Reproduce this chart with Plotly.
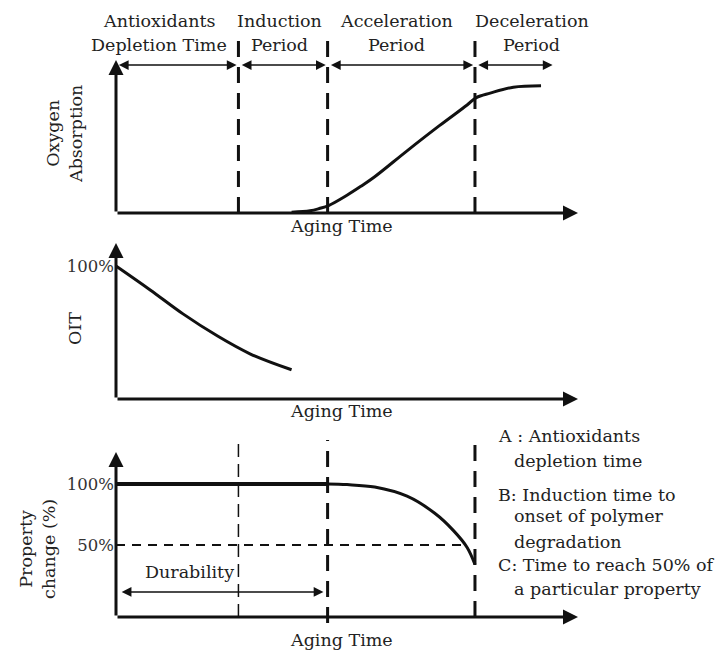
import plotly.graph_objects as go

# ---------------- data (schematic, arbitrary time units 0-100) ----------------
t_A = 26.5   # antioxidants depletion time
t_B = 45.8   # induction time (onset of degradation)
t_C = 77.7   # time to reach 50% of property

time_oxygen = [38, 42, 44, 46, 50, 53, 56, 63, 70, 76, 78, 81, 86, 92]
oxygen_absorption = [0.5, 1.5, 3, 5, 12, 18, 24.5, 42, 59, 73, 78, 81, 85, 86]

time_oit = [0, 7.4, 14.5, 21.9, 29, 38]
oit_percent = [100, 82, 64, 47.5, 34, 22]

time_property_flat = [0, t_B]
property_flat = [100, 100]
time_property = [t_B, 50, 56, 63, 69, 73, 76, 77.7]
property_percent = [100, 99.5, 97.5, 90, 76, 62, 48, 34]

stage_labels = [("Antioxidants", "Depletion Time"), ("Induction", "Period"),
                ("Acceleration", "Period"), ("Deceleration", "Period")]
stage_centers = [9.3, 35.3, 60.8, 90.0]

legend_lines = ["A : Antioxidants", "depletion time", "B: Induction time to",
                "onset of polymer", "degradation", "C: Time to reach 50% of",
                "a particular property"]

# ---------------- layout helpers (pixel geometry) ----------------
W, H = 715, 654
X0_PX, PX_PER_T = 116, 4.62
FONT = "DejaVu Serif"
INK = "#111111"


def x_axis(left_px, right_px):
    return dict(domain=[left_px / W, right_px / W],
                range=[(left_px - X0_PX) / PX_PER_T, (right_px - X0_PX) / PX_PER_T],
                visible=False, fixedrange=True)


def y_axis(zero_px, ppu, top_px, bottom_px, **kw):
    d = dict(domain=[1 - bottom_px / H, 1 - top_px / H],
             range=[(zero_px - bottom_px) / ppu, (zero_px - top_px) / ppu],
             showgrid=False, zeroline=False, showline=False, fixedrange=True)
    d.update(kw)
    return d


def px_x(p):
    return p / W


def px_y(p):
    return 1 - p / H


fig = go.Figure()

# panel 1 : oxygen absorption
fig.add_trace(go.Scatter(x=time_oxygen, y=oxygen_absorption, mode="lines",
                         line=dict(color=INK, width=3, shape="spline"),
                         xaxis="x", yaxis="y", hoverinfo="skip"))
for tv in (t_A, t_B, t_C):
    fig.add_trace(go.Scatter(x=[tv, tv], y=[0, 116.9], mode="lines",
                             line=dict(color=INK, width=3, dash="16px,10px"),
                             xaxis="x", yaxis="y", hoverinfo="skip"))

# panel 2 : OIT
fig.add_trace(go.Scatter(x=time_oit, y=oit_percent, mode="lines",
                         line=dict(color=INK, width=3, shape="spline"),
                         xaxis="x2", yaxis="y2", hoverinfo="skip"))

# panel 3 : property change
fig.add_trace(go.Scatter(x=time_property_flat, y=property_flat, mode="lines",
                         line=dict(color=INK, width=4),
                         xaxis="x3", yaxis="y3", hoverinfo="skip"))
fig.add_trace(go.Scatter(x=time_property, y=property_percent, mode="lines",
                         line=dict(color=INK, width=3, shape="spline"),
                         xaxis="x3", yaxis="y3", hoverinfo="skip"))
fig.add_trace(go.Scatter(x=[0, 75.6], y=[50, 50], mode="lines",
                         line=dict(color=INK, width=1.8, dash="9px,7px"),
                         xaxis="x3", yaxis="y3", hoverinfo="skip"))
fig.add_trace(go.Scatter(x=[t_A, t_A], y=[-9, 136], mode="lines",
                         line=dict(color=INK, width=1.5, dash="13px,7px"),
                         xaxis="x3", yaxis="y3", hoverinfo="skip"))
fig.add_trace(go.Scatter(x=[t_B, t_B], y=[-14, 136], mode="lines",
                         line=dict(color=INK, width=3, dash="16px,10px"),
                         xaxis="x3", yaxis="y3", hoverinfo="skip"))
fig.add_trace(go.Scatter(x=[t_C, t_C], y=[-9, 134], mode="lines",
                         line=dict(color=INK, width=3, dash="16px,10px"),
                         xaxis="x3", yaxis="y3", hoverinfo="skip"))

tick_font = dict(family=FONT, size=16.5, color="#333333")

fig.update_layout(
    width=W, height=H, margin=dict(l=0, r=0, t=0, b=0),
    paper_bgcolor="white", plot_bgcolor="rgba(0,0,0,0)", showlegend=False,
    xaxis=x_axis(100, 600),
    xaxis2=x_axis(100, 600),
    xaxis3=x_axis(100, 600),
    yaxis=y_axis(213, 1.48, 36, 220, anchor="x", showticklabels=False, ticks=""),
    yaxis2=y_axis(399, 1.33, 238, 405, anchor="free", position=X0_PX / W,
                  tickvals=[100], ticktext=["100%"], ticks="", tickfont=tick_font,
                  ticklabelstandoff=2),
    yaxis3=y_axis(606, 1.22, 430, 630, anchor="free", position=X0_PX / W,
                  tickvals=[100, 50], ticktext=["100%", "50%"], ticks="", tickfont=tick_font,
                  ticklabelstandoff=2),
)

annotations = []


def arrow(xref, yref, x_head, y_head, x_tail, y_tail, width=3, both=False, size=1.0):
    annotations.append(dict(xref=xref, yref=yref, axref=xref, ayref=yref,
                            x=x_head, y=y_head, ax=x_tail, ay=y_tail, text="",
                            showarrow=True, arrowhead=2, arrowsize=size,
                            arrowwidth=width, arrowcolor=INK,
                            arrowside="end+start" if both else "end"))


# axes with arrowheads
arrow("x", "y", 0, (213 - 60) / 1.48, 0, 0)
arrow("x", "y", (578 - X0_PX) / PX_PER_T, 0, 0, 0)
arrow("x2", "y2", 0, (399 - 243) / 1.33, 0, 0)
arrow("x2", "y2", (578 - X0_PX) / PX_PER_T, 0, 0, 0)
arrow("x3", "y3", 0, (606 - 452) / 1.22, 0, -9)
arrow("x3", "y3", (578 - X0_PX) / PX_PER_T, -9, 0, -9)

# stage arrows at the top of panel 1
y_stage = 100
arrow("x", "y", t_A - 0.4, y_stage, 0.3, y_stage, width=1.5, both=True, size=1.3)
arrow("x", "y", t_B - 0.4, y_stage, t_A + 0.4, y_stage, width=1.5, both=True, size=1.3)
arrow("x", "y", t_C - 0.4, y_stage, t_B + 0.4, y_stage, width=1.5, both=True, size=1.3)
arrow("x", "y", 94.5, y_stage, t_C + 0.4, y_stage, width=1.5, both=True, size=1.3)

# durability arrow
arrow("x3", "y3", 44.9, 11.5, 0.9, 11.5, width=1.5, both=True, size=1.3)

txt = dict(family=FONT, size=17.5, color="#222222")


def label(text, xpx, ypx, xanchor="center", angle=0):
    annotations.append(dict(xref="paper", yref="paper", x=px_x(xpx), y=px_y(ypx),
                            text=text, showarrow=False, xanchor=xanchor,
                            yanchor="middle", font=txt, textangle=angle))


for (l1, l2), tc in zip(stage_labels, stage_centers):
    xc = X0_PX + tc * PX_PER_T
    label(l1, xc, 21)
    label(l2, xc, 45)

label("Aging Time", 341, 226)
label("Aging Time", 341, 411)
label("Aging Time", 341, 640)
label("Oxygen<br>Absorption", 64, 134, angle=-90)
label("OIT", 75, 329, angle=-90)
label("Property<br>change (%)", 37, 549, angle=-90)
label("Durability", 189, 572)

legend_x = [496, 512, 496, 512, 512, 496, 512]
legend_y = [436, 461, 495, 516, 542, 565, 589]
for t, xp, yp in zip(legend_lines, legend_x, legend_y):
    label(t, xp, yp, xanchor="left")

fig.update_layout(annotations=annotations)
fig.write_html("out.html", config={"displayModeBar": False},
               post_script="document.body.style.margin='0px';document.body.style.overflow='hidden';")
